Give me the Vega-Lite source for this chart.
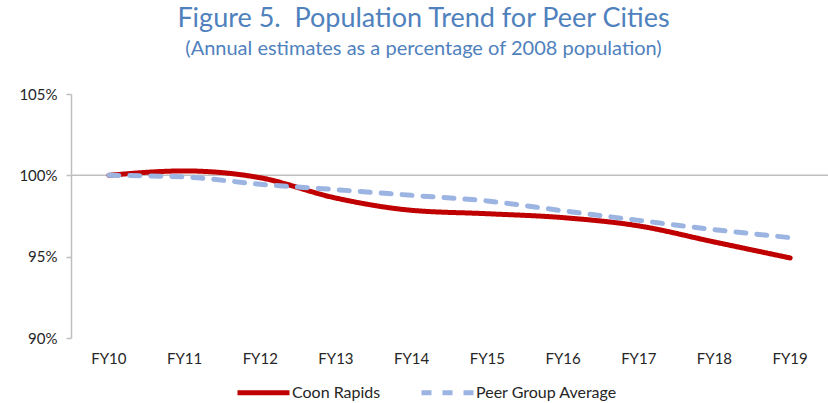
{
  "$schema": "https://vega.github.io/schema/vega-lite/v6.json",
  "width": 757,
  "height": 244,
  "autosize": {"type": "none"},
  "padding": {"left": 71, "top": 94, "right": 0, "bottom": 65},
  "background": "white",
  "title": {
    "text": "Figure 5.\u00a0 Population Trend for Peer Cities",
    "subtitle": "(Annual estimates as a percentage of 2008 population)",
    "font": "Lato",
    "fontSize": 27,
    "fontWeight": "normal",
    "color": "#4F81BD",
    "subtitleFont": "Lato",
    "subtitleFontSize": 20,
    "subtitleColor": "#4F81BD",
    "subtitlePadding": 6,
    "anchor": "middle",
    "dx": -26,
    "offset": 27
  },
  "config": {
    "view": {"stroke": null},
    "font": "Lato"
  },
  "data": {
    "values": [
      {"year": "FY10", "series": "Coon Rapids", "value": 100.0},
      {"year": "FY11", "series": "Coon Rapids", "value": 100.27},
      {"year": "FY12", "series": "Coon Rapids", "value": 99.85},
      {"year": "FY13", "series": "Coon Rapids", "value": 98.6},
      {"year": "FY14", "series": "Coon Rapids", "value": 97.85},
      {"year": "FY15", "series": "Coon Rapids", "value": 97.64},
      {"year": "FY16", "series": "Coon Rapids", "value": 97.4},
      {"year": "FY17", "series": "Coon Rapids", "value": 96.89},
      {"year": "FY18", "series": "Coon Rapids", "value": 95.9},
      {"year": "FY19", "series": "Coon Rapids", "value": 94.92},
      {"year": "FY10", "series": "Peer Group Average", "value": 100.0},
      {"year": "FY11", "series": "Peer Group Average", "value": 99.9},
      {"year": "FY12", "series": "Peer Group Average", "value": 99.45},
      {"year": "FY13", "series": "Peer Group Average", "value": 99.12},
      {"year": "FY14", "series": "Peer Group Average", "value": 98.77},
      {"year": "FY15", "series": "Peer Group Average", "value": 98.42},
      {"year": "FY16", "series": "Peer Group Average", "value": 97.82},
      {"year": "FY17", "series": "Peer Group Average", "value": 97.23},
      {"year": "FY18", "series": "Peer Group Average", "value": 96.66},
      {"year": "FY19", "series": "Peer Group Average", "value": 96.17}
    ]
  },
  "layer": [
    {
      "data": {"values": [{"ref": 100}]},
      "mark": {"type": "rule", "color": "#BFBFBF", "strokeWidth": 1.5},
      "encoding": {
        "y": {"field": "ref", "type": "quantitative", "scale": {"domain": [90, 105]}}
      }
    },
    {
      "mark": {"type": "line", "strokeWidth": 5, "interpolate": "monotone", "strokeCap": "round"},
      "encoding": {
        "x": {
          "field": "year",
          "type": "ordinal",
          "scale": {"type": "band", "paddingInner": 0, "paddingOuter": 0},
          "axis": {
            "title": null,
            "domain": false,
            "ticks": false,
            "labelAngle": 0,
            "labelFont": "Lato",
            "labelFontSize": 15,
            "labelColor": "#262626",
            "labelPadding": 13
          }
        },
        "y": {
          "field": "value",
          "type": "quantitative",
          "scale": {"domain": [90, 105], "zero": false, "nice": false},
          "axis": {
            "title": null,
            "values": [90, 95, 100, 105],
            "grid": false,
            "domainColor": "#BFBFBF",
            "domainWidth": 1.5,
            "tickColor": "#BFBFBF",
            "tickSize": 5,
            "tickWidth": 1.5,
            "labelExpr": "datum.value + '%'",
            "labelFont": "Lato",
            "labelFontSize": 15,
            "labelColor": "#262626",
            "labelPadding": 9
          }
        },
        "color": {
          "field": "series",
          "type": "nominal",
          "scale": {"domain": ["Coon Rapids", "Peer Group Average"], "range": ["#C00000", "#9CB4E2"]},
          "legend": {
            "title": null,
            "orient": "none",
            "legendX": 164,
            "legendY": 270,
            "direction": "horizontal",
            "symbolType": "stroke",
            "symbolSize": 2704,
            "symbolStrokeWidth": 5,
            "labelFont": "Lato",
            "labelFontSize": 16,
            "labelColor": "#262626",
            "labelOffset": 0,
            "columnPadding": 30
          }
        },
        "strokeDash": {
          "field": "series",
          "type": "nominal",
          "scale": {"domain": ["Coon Rapids", "Peer Group Average"], "range": [[1, 0], [10, 11]]},
          "legend": {
            "title": null,
            "orient": "none",
            "legendX": 164,
            "legendY": 270,
            "direction": "horizontal",
            "symbolType": "stroke",
            "symbolSize": 2704,
            "symbolStrokeWidth": 5,
            "labelFont": "Lato",
            "labelFontSize": 16,
            "labelColor": "#262626",
            "labelOffset": 0,
            "columnPadding": 30
          }
        }
      }
    }
  ]
}
